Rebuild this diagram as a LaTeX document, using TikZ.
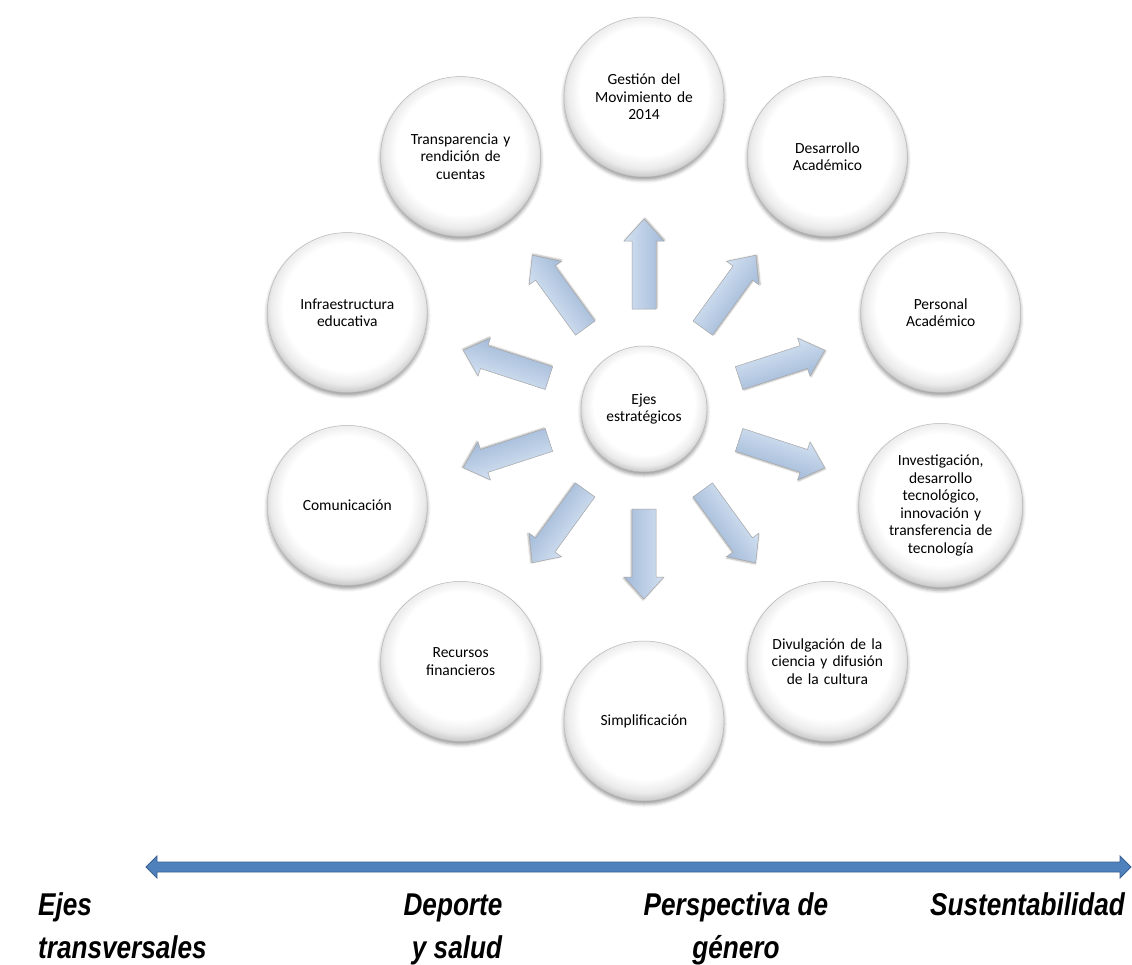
\documentclass[tikz,border=0pt]{standalone}
\usepackage{fontspec}
\setmainfont{Carlito}
\newfontfamily\axisfont[FakeStretch=0.83]{Liberation Sans}
\usetikzlibrary{shadows.blur,calc}

\definecolor{axisblue}{HTML}{4F81BD}
\definecolor{axisedge}{HTML}{3A6190}
\definecolor{spokelight}{HTML}{D3E1F2}
\definecolor{spokemid}{HTML}{F1F5FB}
\definecolor{spokedark}{HTML}{A3BAD8}

% white disc, rim greyer towards the bottom
\pgfdeclareradialshading{pearl}{\pgfpoint{0bp}{3bp}}{%
  color(0bp)=(white); color(20bp)=(white); color(24bp)=(black!8);
  color(26.5bp)=(black!22); color(28bp)=(black!45); color(50bp)=(black!45)}

\tikzset{
  bubble/.style={circle, minimum size=160pt, inner sep=0pt, shading=pearl,
    draw=black!28, line width=0.5pt,
    blur shadow={shadow xshift=0pt, shadow yshift=-3pt,
                 shadow blur radius=3.5pt, shadow opacity=40},
    align=center, text width=130pt,
    font=\fontsize{15.5}{17.5}\selectfont},
  hub/.style={bubble, minimum size=126pt, text width=100pt},
  spoke/.style={draw=black!35, line width=0.5pt,
    top color=spokelight, middle color=spokemid, bottom color=spokedark,
    blur shadow={shadow xshift=1pt, shadow yshift=-1pt,
                 shadow blur radius=1.5pt, shadow opacity=30}},
  axisarrow/.style={draw=axisedge, fill=axisblue, line width=0.8pt,
    line join=miter},
  axislabel/.style={inner sep=0pt,
    font=\axisfont\bfseries\itshape\fontsize{31.5}{43}\selectfont}
}

\begin{document}
\begin{tikzpicture}[x=1pt, y=-1pt]
\useasboundingbox (0,0) rectangle (1132,964);

\coordinate (hubc) at (644,409);

% outward block arrows, one per axis
\foreach \k in {0,...,9}{
  \pgfmathsetmacro\ang{90-36*\k}
  \begin{scope}[transform canvas={shift={(hubc)}, rotate=\ang}]
    \path[spoke] (100,-12) -- (168,-12) -- (168,-20) -- (190,0)
      -- (168,20) -- (168,12) -- (100,12) -- cycle;
  \end{scope}
}

% central circle
\node[hub] (hub) at (hubc) {Ejes\\estratégicos};

% surrounding circles, 36 degrees apart, clockwise from the top
\foreach \k/\name/\txt in {
  0/gestion/{Gestión del\\Movimiento de\\2014},
  1/desarrollo/{Desarrollo\\Académico},
  2/personal/{Personal\\Académico},
  3/investigacion/{Investigación,\\desarrollo\\tecnológico,\\innovación y\\transferencia de\\tecnología},
  4/divulgacion/{Divulgación de la\\ciencia y difusión\\de la cultura},
  5/simplificacion/{Simplificación},
  6/recursos/{Recursos\\financieros},
  7/comunicacion/{Comunicación},
  8/infraestructura/{Infraestructura\\educativa},
  9/transparencia/{Transparencia y\\rendición de\\cuentas}}{
  \node[bubble] (\name) at ($(hubc)+({312*sin(36*\k)},{-312*cos(36*\k)})$) {\txt};
}

% horizontal double arrow for the cross-cutting axes
\coordinate (axL) at (146,867);
\coordinate (axR) at (1131,867);
\draw[axisarrow] (axL) -- ++(11,-11) -- ++(0,6) -- ($(axR)+(-11,-5)$)
  -- ++(0,-6) -- (axR) -- ++(-11,11) -- ++(0,-6) -- ($(axL)+(11,5)$)
  -- ++(0,6) -- cycle;

\node[axislabel, anchor=base west] (ejes1) at (38,915) {Ejes};
\node[axislabel, anchor=base west] (ejes2) at (38,958) {transversales};
\node[axislabel, anchor=base] (dep1) at (453,915) {Deporte};
\node[axislabel, anchor=base] (dep2) at (457,958) {y salud};
\node[axislabel, anchor=base] (gen1) at (736,915) {Perspectiva de};
\node[axislabel, anchor=base] (gen2) at (736,958) {género};
\node[axislabel, anchor=base west] (sus) at (930,915) {Sustentabilidad};
\end{tikzpicture}
\end{document}
